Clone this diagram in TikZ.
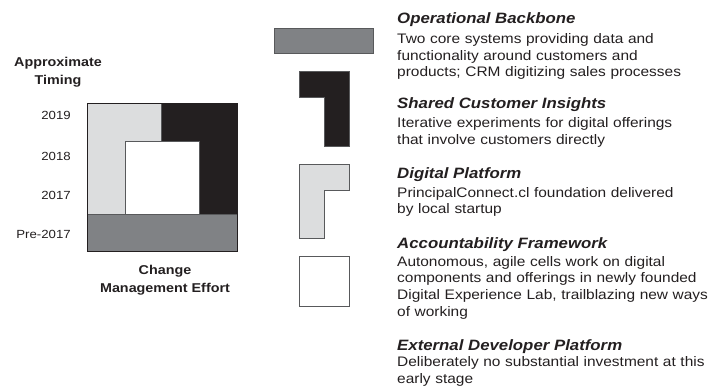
\documentclass[tikz,border=0pt]{standalone}
\usepackage{fontspec}
\setmainfont[FakeStretch=1.12]{Liberation Sans}
\usepackage{xcolor}
\definecolor{inkblack}{HTML}{231F20}
\definecolor{midgray}{HTML}{808285}
\definecolor{lightgray}{HTML}{DCDDDE}
\definecolor{edgegray}{HTML}{58595B}

\tikzset{
  block/.style={draw=edgegray, line width=0.8pt, line join=miter},
  heading/.style={anchor=base west, inner sep=0pt, text=inkblack,
    font=\fontsize{15}{18}\selectfont\bfseries\itshape},
  desc/.style={anchor=base west, inner sep=0pt, text=inkblack, text width=330pt, align=left,
    font=\fontsize{13.8}{16.6}\selectfont},
  axislabel/.style={inner sep=0pt, text=inkblack, align=center,
    font=\fontsize{12.8}{18.3}\selectfont\bfseries},
  year/.style={anchor=base east, inner sep=0pt, text=inkblack,
    font=\fontsize{11.8}{14}\selectfont}
}

\begin{document}
\begin{tikzpicture}[x=1pt,y=-1pt]
\useasboundingbox (0,0) rectangle (709,387);

% timing chart
\fill[block, fill=midgray] (87.7,214) rectangle (237,251.7);
\fill[block, fill=lightgray] (87.7,103.3) -- (161.7,103.3) -- (161.7,141.7) -- (125,141.7) -- (125,214) -- (87.7,214) -- cycle;
\fill[block, fill=inkblack] (161.7,103.3) -- (237,103.3) -- (237,214) -- (199,214) -- (199,141.7) -- (161.7,141.7) -- cycle;
\draw[block, fill=white] (125,141.7) rectangle (199,214);
\draw[inkblack, line width=0.9pt] (87.7,103.3) rectangle (237,251.7);

\node[axislabel, anchor=base] (timing) at (58,85) {Approximate\\Timing};
\node[year] (y2019) at (71,120) {2019};
\node[year] (y2018) at (71,160.7) {2018};
\node[year] (y2017) at (71,199.3) {2017};
\node[year] (ypre) at (71,238.3) {Pre-2017};
\node[axislabel, anchor=base] (effort) at (165,292.3) {Change\\Management Effort};

% legend shapes
\draw[block, fill=midgray] (274.3,28.3) rectangle (373.3,53.3);
\draw[block, fill=inkblack] (299.3,71.7) -- (349.3,71.7) -- (349.3,146) -- (324,146) -- (324,97.3) -- (299.3,97.3) -- cycle;
\draw[block, fill=lightgray] (299.3,164.3) -- (349.3,164.3) -- (349.3,190) -- (324,190) -- (324,238.3) -- (299.3,238.3) -- cycle;
\draw[block, fill=white] (299.3,256.7) rectangle (349.3,306.7);

% legend texts
\node[heading] (opb) at (397,23.5) {Operational Backbone};
\node[desc] (opbtext) at (397,43.7) {Two core systems providing data and\\functionality around customers and\\products; CRM digitizing sales processes};
\node[heading] (sci) at (397,109) {Shared Customer Insights};
\node[desc] (scitext) at (397,128) {Iterative experiments for digital offerings\\that involve customers directly};
\node[heading] (dpl) at (397,178.5) {Digital Platform};
\node[desc] (dpltext) at (397,197.3) {PrincipalConnect.cl foundation delivered\\by local startup};
\node[heading] (acf) at (397,248.3) {Accountability Framework};
\node[desc] (acftext) at (397,266.3) {Autonomous, agile cells work on digital\\components and offerings in newly founded\\Digital Experience Lab, trailblazing new ways\\of working};
\node[heading] (edp) at (397,350) {External Developer Platform};
\node[desc] (edptext) at (397,366.7) {Deliberately no substantial investment at this\\early stage};
\end{tikzpicture}
\end{document}
